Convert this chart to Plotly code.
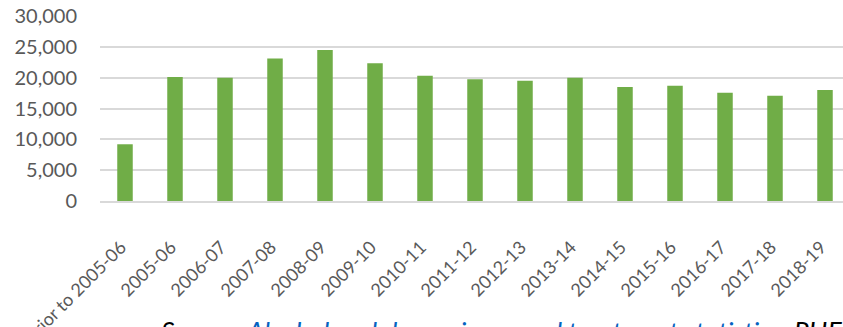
import plotly.graph_objects as go

# Treatment starts by financial year
years = ["Prior to 2005-06", "2005-06", "2006-07", "2007-08", "2008-09", "2009-10",
         "2010-11", "2011-12", "2012-13", "2013-14", "2014-15", "2015-16",
         "2016-17", "2017-18", "2018-19"]
counts = [9200, 20100, 20000, 23100, 24500, 22350, 20300, 19750, 19500, 20000,
          18500, 18700, 17550, 17050, 18000]

y_ticks = [0, 5000, 10000, 15000, 20000, 25000, 30000]

FONT = "Lato, 'Open Sans', sans-serif"
BAR = "#70AD47"
GRID = "#D9D9D9"
LABEL = "#595959"

fig = go.Figure(
    go.Bar(
        x=list(range(len(years))),
        y=counts,
        marker=dict(color=BAR, line=dict(width=0)),
        width=0.31,
    )
)

fig.update_layout(
    width=843,
    height=327,
    margin=dict(l=100, r=0, t=16, b=126, autoexpand=False),
    paper_bgcolor="white",
    plot_bgcolor="white",
    showlegend=False,
    font=dict(family=FONT, color=LABEL, size=20),
)

fig.update_xaxes(
    range=[-0.5, -0.5 + 743 / 50],
    tickmode="array",
    tickvals=list(range(len(years))),
    ticktext=years,
    tickangle=-45,
    tickfont=dict(size=18, color=LABEL),
    showgrid=False,
    showline=True,
    linecolor=GRID,
    linewidth=1.5,
    ticks="outside",
    ticklen=27,
    tickcolor="rgba(0,0,0,0)",
    ticklabelshift=-4,
    zeroline=False,
    automargin=False,
)

fig.update_yaxes(
    range=[0, 30000],
    tickvals=y_ticks,
    ticktext=[f"{v:,}" for v in y_ticks],
    tickfont=dict(size=20, color=LABEL),
    showgrid=True,
    gridcolor=GRID,
    gridwidth=1.5,
    zeroline=False,
    showline=False,
    ticks="",
    ticklabelstandoff=22,
    automargin=False,
)

fig.add_annotation(
    xref="paper", yref="paper",
    x=-(100 - 159) / 743, y=-(327 - 16 - 185 - 13) / 185,
    xanchor="left", yanchor="top",
    showarrow=False,
    align="left",
    text="<i>Source: <span style='color:#0563C1'>Alcohol and drug misuse and treatment statistics</span>, PHE</i>",
    font=dict(family=FONT, size=26.5, color="#000000"),
)

fig.write_html("out.html")
